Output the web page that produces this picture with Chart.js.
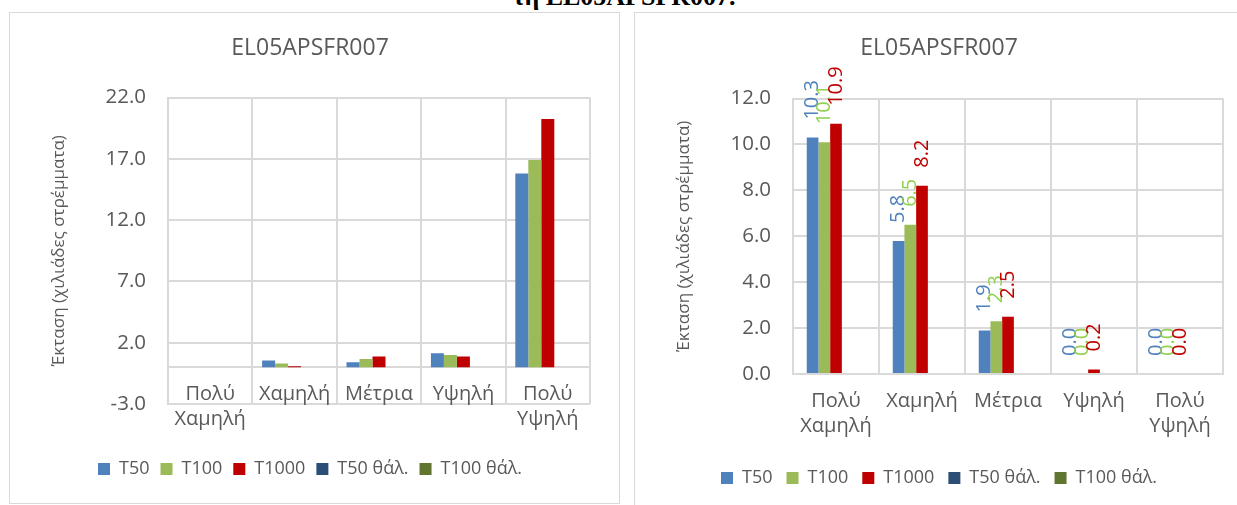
<!DOCTYPE html>
<html>
<head>
<meta charset="utf-8">
<script src="https://cdn.jsdelivr.net/npm/chart.js@4"></script>
<style>
  body { margin: 0; width: 1237px; height: 505px; overflow: hidden; background: #fff; position: relative; }
  .heading { position: absolute; left: 0; width: 1248px; top: -16px; text-align: center;
             font: bold 26px "Liberation Serif"; line-height: 26px; color: #000; }
  .box { position: absolute; border: 1px solid #d9d9d9; background: #fff; }
  #boxLeft { left: 9px; top: 12px; width: 609px; height: 490px; }
  #boxRight { left: 634px; top: 12px; width: 620px; height: 500px; }
  canvas { display: block; }
</style>
</head>
<body>
<div class="heading">τη EL05APSFR007.</div>
<div class="box" id="boxLeft"><canvas id="leftChart" width="609" height="490"></canvas></div>
<div class="box" id="boxRight"><canvas id="rightChart" width="602" height="493"></canvas></div>

<script>
// shared
const categories = [['Πολύ', 'Χαμηλή'], 'Χαμηλή', 'Μέτρια', 'Υψηλή', ['Πολύ', 'Υψηλή']];
const seriesNames = ['T50', 'T100', 'T1000', 'T50 θάλ.', 'T100 θάλ.'];
const seriesColors = ['#4f81bd', '#9bbb59', '#c00000', '#2c4d75', '#5f7530'];
const labelColors = ['#4f81bd', '#92d050', '#c00000'];
const chartTitle = 'EL05APSFR007';
const yTitle = 'Έκταση (χιλιάδες στρέμματα)';

// left chart values
const leftT50 = [0, 0.55, 0.4, 1.15, 15.8];
const leftT100 = [0, 0.3, 0.68, 1.0, 16.9];
const leftT1000 = [0, 0.08, 0.88, 0.88, 20.25];
const leftTicks = [-3, 2, 7, 12, 17, 22];

// right chart values
const rightT50 = [10.3, 5.8, 1.9, 0.0, 0.0];
const rightT100 = [10.1, 6.5, 2.3, 0.0, 0.0];
const rightT1000 = [10.9, 8.2, 2.5, 0.2, 0.0];
const rightTicks = [0, 2, 4, 6, 8, 10, 12];

Chart.defaults.font.family = '"Open Sans"';
Chart.defaults.color = '#595959';

const gridColor = '#d9d9d9';

// draws the rotated value labels above each bar (like excel "outside end")
const barValueLabels = {
  id: 'barValueLabels',
  afterDatasetsDraw(chart) {
    const ctx = chart.ctx;
    ctx.save();
    ctx.font = '20px "Open Sans"';
    ctx.textAlign = 'left';
    ctx.textBaseline = 'middle';
    chart.data.datasets.forEach((ds, i) => {
      if (!ds.labelColor) return;
      chart.getDatasetMeta(i).data.forEach((bar, j) => {
        ctx.save();
        ctx.translate(bar.x, bar.y - 18);
        ctx.rotate(-Math.PI / 2);
        ctx.fillStyle = ds.labelColor;
        ctx.fillText(ds.data[j].toFixed(1), 0, 0);
        ctx.restore();
      });
    });
    ctx.restore();
  }
};

function buildDatasets(values, withLabels, catPct) {
  return seriesNames.map((name, i) => ({
    label: name,
    data: values[i] || [],
    backgroundColor: seriesColors[i],
    borderWidth: 0,
    barPercentage: 1,
    categoryPercentage: catPct,
    labelColor: withLabels && values[i] ? labelColors[i] : null
  }));
}

function makeChart(id, opts) {
  const ctx = document.getElementById(id).getContext('2d');
  const scales = {
    x: {
      position: opts.xPosition,
      grid: { color: gridColor, lineWidth: 2, drawTicks: false },
      border: { color: gridColor, width: 2 },
      ticks: { padding: 15, color: '#595959', font: { size: 20, lineHeight: 1.25 }, maxRotation: 0, autoSkip: false },
      afterFit: s => { s.height = opts.xHeight; }
    },
    y: {
      min: opts.ticks[0],
      max: opts.ticks[opts.ticks.length - 1],
      afterBuildTicks: s => { s.ticks = opts.ticks.map(v => ({ value: v })); },
      grid: { color: gridColor, lineWidth: 2, drawTicks: false },
      border: { color: gridColor, width: 2 },
      ticks: { padding: 22, color: '#595959', font: { size: 20.5 }, callback: v => Number(v).toFixed(1) },
      title: { display: true, text: yTitle, color: '#595959', font: { size: 17 }, padding: { top: 19, bottom: 0 } },
      afterFit: s => { s.width = 138; }
    }
  };
  // axis crossing at 0 takes no room, so keep the space for its labels with an empty one
  if (opts.spacer) {
    scales.xSpace = {
      type: 'category',
      position: 'bottom',
      grid: { display: false },
      border: { display: false },
      ticks: { display: false },
      afterFit: s => { s.height = opts.spacer; }
    };
  }
  return new Chart(ctx, {
    type: 'bar',
    data: {
      labels: categories,
      datasets: buildDatasets(opts.values, opts.withLabels, opts.catPct)
    },
    plugins: opts.withLabels ? [barValueLabels] : [],
    options: {
      responsive: false,
      animation: false,
      layout: { padding: { left: 20, right: opts.padRight, top: 0, bottom: opts.padBottom } },
      plugins: {
        title: {
          display: true,
          text: chartTitle,
          color: '#595959',
          font: { size: 23, weight: 'normal' },
          padding: { top: 22, bottom: opts.titleBottom }
        },
        legend: {
          position: 'bottom',
          labels: {
            boxWidth: 12,
            boxHeight: 12,
            padding: opts.legendPad,
            color: '#595959',
            font: { size: 18 }
          }
        },
        tooltip: { enabled: false }
      },
      scales: scales
    }
  });
}

makeChart('leftChart', {
  values: [leftT50, leftT100, leftT1000],
  withLabels: false,
  catPct: 0.77,
  ticks: leftTicks,
  xPosition: { y: 0 },
  xHeight: 0,
  spacer: 45,
  padRight: 29,
  padBottom: 15,
  titleBottom: 35,
  legendPad: 11
});

makeChart('rightChart', {
  values: [rightT50, rightT100, rightT1000],
  withLabels: true,
  catPct: 0.68,
  ticks: rightTicks,
  xPosition: 'bottom',
  xHeight: 81,
  spacer: 0,
  padRight: 14,
  padBottom: 9,
  titleBottom: 36,
  legendPad: 14
});
</script>
</body>
</html>
